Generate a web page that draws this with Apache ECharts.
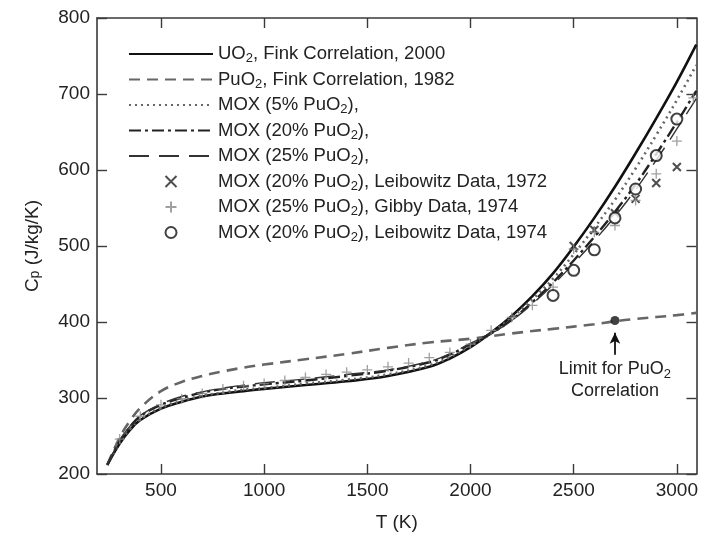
<!DOCTYPE html>
<html><head><meta charset="utf-8">
<script src="https://cdn.jsdelivr.net/npm/echarts@6/dist/echarts.min.js"></script>
<style>html,body{margin:0;padding:0;background:#fff}#c{width:701px;height:537px}</style>
</head><body><div id="c"></div>
<script>
// ---- data ----
const T_CURVE = [240,300,350,400,500,600,700,800,900,1000,1200,1400,1600,1800,1900,2000,2100,2200,2300,2400,2500,2600,2700,2800,2900,3000,3094];
const UO2     = [212,240,258,271,286,295,302,306,309,312,317,322,329,341,352,367,386,408,434,464,499,537,578,622,668,716,765];
const MOX5    = [212,241,259,272,287,296,303,307,311,313,319,324,331,343,354,369,386,406,430,457,489,524,561,602,646,692,738];
const MOX20   = [212,243,262,276,291,300,307,312,315,318,323,329,336,347,357,371,385,403,426,452,481,512,545,581,621,663,704];
const MOX25   = [212,244,263,277,292,302,308,313,317,320,325,331,337,348,358,372,385,402,424,449,477,507,539,574,613,654,694];
const T_PU    = [240,300,350,400,500,600,700,800,900,1000,1200,1400,1600,1800,2000,2200,2400,2600,2700,2800,3000,3094];
const PUO2    = [212,248,270,287,309,321,329,335,340,344,351,358,366,373,378,385,391,397,401,404,409,412];
const T_GIBBY = [300,400,500,600,700,800,900,1000,1100,1200,1300,1400,1500,1600,1700,1800,1900,2000,2100,2200,2300,2400,2500,2600,2700,2800,2900,3000,3080];
const GIBBY   = [246,276,291,299,306,312,316,319,323,327,331,334,337,341,346,353,360,371,389,406,422,446,496,518,527,560,595,638,695];
const T_LEIB72 = [2500,2600,2700,2800,2900,3000];
const LEIB72   = [500,521,543,562,583,604];
const T_LEIB74 = [2400,2500,2600,2700,2800,2900,3000];
const LEIB74   = [435,468,495,537,575,619,667];
const LIMIT_T = 2700, LIMIT_CP = 402;
const X_TICKS = [500,1000,1500,2000,2500,3000];
const NAMES = [
  'UO2, Fink Correlation, 2000',
  'PuO2, Fink Correlation, 1982',
  'MOX (5% PuO2),',
  'MOX (20% PuO2), ',
  'MOX (25% PuO2),',
  'MOX (20% PuO2), Leibowitz Data, 1972',
  'MOX (25% PuO2), Gibby Data, 1974',
  'MOX (20% PuO2), Leibowitz Data, 1974'
];
const ANNOT = 'Limit for PuO2\nCorrelation';

const zip = (xs, ys) => xs.map((x, i) => [x, ys[i]]);
const subify = s => s.replace(/O2/g, 'O{sub|2}');
const FONT = '"Liberation Sans", Arial, sans-serif';
const TXT = '#222';
const AX = '#3a3a3a';
const subRich = { sub: { fontSize: 13, lineHeight: 10, verticalAlign: 'bottom', fontFamily: FONT, color: TXT } };

const chart = echarts.init(document.getElementById('c'), null, { renderer: 'canvas' });

function lineSeries(name, data, color, width, type) {
  return {
    name, type: 'line', data, symbol: 'none', smooth: 0.4,
    lineStyle: { color, width, type }, itemStyle: { color }, z: 3
  };
}

const legendData = NAMES.map((n, i) => i < 5 ? { name: n, itemStyle: { opacity: 0 } } : { name: n });

const option = {
  animation: false,
  backgroundColor: '#fff',
  textStyle: { fontFamily: FONT },
  grid: { left: 97, right: 3, top: 18, bottom: 60 },
  xAxis: [{
    type: 'value', min: 190, max: 3095, position: 'bottom',
    name: 'T (K)', nameLocation: 'middle', nameGap: 39,
    nameTextStyle: { fontSize: 19, color: TXT, fontFamily: FONT },
    axisLine: { show: true, lineStyle: { color: AX, width: 1.6 } },
    axisTick: { show: true, inside: true, length: 10, customValues: X_TICKS, lineStyle: { color: AX, width: 1.4 } },
    axisLabel: { customValues: X_TICKS, fontSize: 19, color: TXT, margin: 7, fontFamily: FONT, formatter: v => String(v) },
    splitLine: { show: false }
  }, {
    type: 'value', min: 190, max: 3095, position: 'top',
    axisLine: { show: true, lineStyle: { color: AX, width: 1.6 } },
    axisTick: { show: true, inside: true, length: 10, customValues: X_TICKS, lineStyle: { color: AX, width: 1.4 } },
    axisLabel: { show: false }, splitLine: { show: false }
  }],
  yAxis: [{
    type: 'value', min: 200, max: 800, interval: 100, position: 'left',
    name: 'C{sub|p} (J/kg/K)', nameLocation: 'middle', nameGap: 55, nameRotate: 90,
    nameTextStyle: { fontSize: 19, color: TXT, fontFamily: FONT, rich: { sub: { fontSize: 14, lineHeight: 10, verticalAlign: 'bottom', color: TXT, fontFamily: FONT } } },
    axisLine: { show: true, lineStyle: { color: AX, width: 1.6 } },
    axisTick: { show: true, inside: true, length: 10, lineStyle: { color: AX, width: 1.4 } },
    axisLabel: { fontSize: 19, color: TXT, margin: 7, fontFamily: FONT, formatter: v => String(v) },
    splitLine: { show: false }
  }, {
    type: 'value', min: 200, max: 800, interval: 100, position: 'right',
    axisLine: { show: true, lineStyle: { color: AX, width: 1.6 } },
    axisTick: { show: true, inside: true, length: 10, lineStyle: { color: AX, width: 1.4 } },
    axisLabel: { show: false }, splitLine: { show: false }
  }],
  legend: {
    orient: 'vertical', left: 123, top: 38, itemWidth: 84, itemHeight: 11, itemGap: 3.5,
    data: legendData,
    formatter: n => subify(n),
    textStyle: { fontSize: 18.5, color: TXT, fontFamily: FONT, lineHeight: 22, rich: subRich },
    selectedMode: false
  },
  series: [
    lineSeries(NAMES[0], zip(T_CURVE, UO2), '#111', 2.6, 'solid'),
    lineSeries(NAMES[1], zip(T_PU, PUO2), '#666', 2.6, [11, 7]),
    lineSeries(NAMES[2], zip(T_CURVE, MOX5), '#666', 2.6, [2, 4]),
    lineSeries(NAMES[3], zip(T_CURVE, MOX20), '#222', 2.4, [12, 4, 3, 4]),
    lineSeries(NAMES[4], zip(T_CURVE, MOX25), '#333', 1.4, [20, 10]),
    {
      name: NAMES[5], type: 'scatter', data: zip(T_LEIB72, LEIB72),
      symbol: 'path://M0,0L10,10M10,0L0,10', symbolSize: 8,
      itemStyle: { color: 'transparent', borderColor: '#222', borderWidth: 2 }, z: 4
    },
    {
      name: NAMES[6], type: 'scatter', data: zip(T_GIBBY, GIBBY),
      symbol: 'path://M5,0L5,10M0,5L10,5', symbolSize: 10,
      itemStyle: { color: 'transparent', borderColor: '#888', borderWidth: 1.3 }, z: 4
    },
    {
      name: NAMES[7], type: 'scatter', data: zip(T_LEIB74, LEIB74),
      symbol: 'emptyCircle', symbolSize: 11,
      itemStyle: { color: '#111', borderColor: '#111', borderWidth: 2 }, z: 5
    },
    {
      name: 'limit', type: 'scatter', data: [[LIMIT_T, LIMIT_CP]],
      symbol: 'circle', symbolSize: 9, itemStyle: { color: '#111' }, z: 6,
      markLine: {
        silent: true, symbol: ['none', 'arrow'], symbolSize: [8, 11],
        lineStyle: { color: '#111', width: 1.8, type: 'solid' },
        label: { show: false },
        data: [[{ coord: [LIMIT_T, 357] }, { coord: [LIMIT_T, 386] }]]
      }
    }
  ]
};
chart.setOption(option);

const p = chart.convertToPixel({ gridIndex: 0 }, [LIMIT_T, LIMIT_CP]);
chart.setOption({
  graphic: [{
    type: 'text', x: p[0], y: p[1] + 38, z: 10,
    style: {
      text: subify(ANNOT), align: 'center', verticalAlign: 'top',
      fontSize: 18, fill: TXT, fontFamily: FONT, lineHeight: 22,
      rich: subRich
    }
  }]
});
</script></body></html>
